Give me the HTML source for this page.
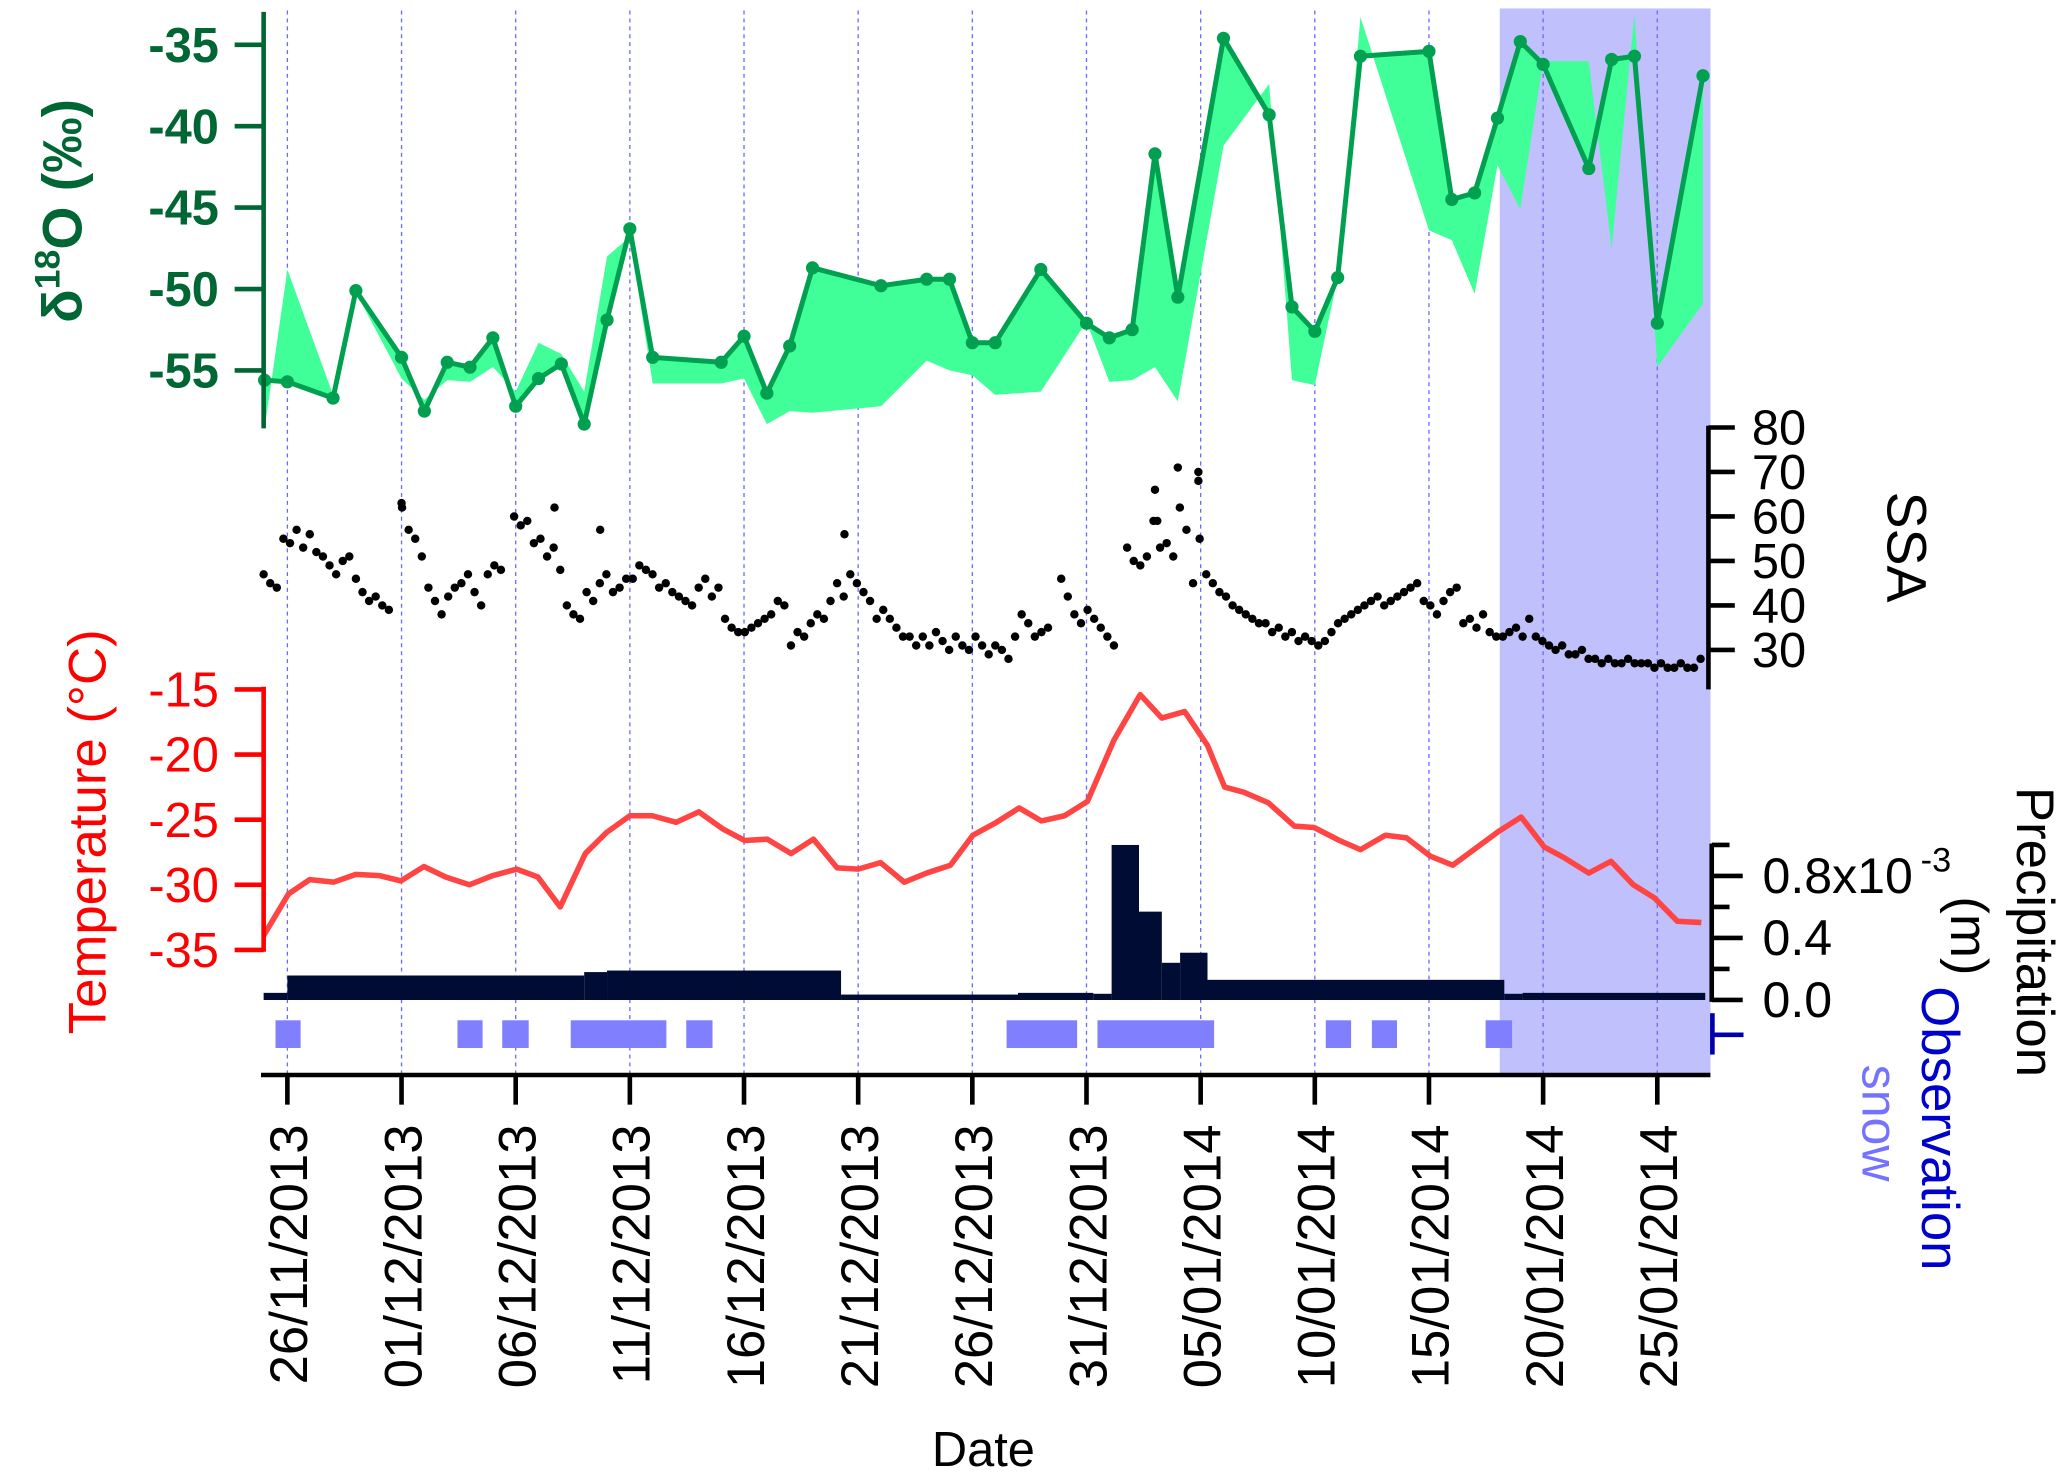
<!DOCTYPE html>
<html><head><meta charset="utf-8"><title>d18O SSA Temperature Precipitation</title>
<style>
html,body{margin:0;padding:0;background:#fff;}
svg{display:block;}
text{font-family:"Liberation Sans",Arial,sans-serif;}
</style></head>
<body>
<svg id="chart" width="2067" height="1476" viewBox="0 0 1568 1119.7" preserveAspectRatio="none" xmlns="http://www.w3.org/2000/svg">
  <rect x="0" y="0" width="1568" height="1120" fill="#fff"/>
  <g id="shade"></g>
  <g id="grid"></g>
  <g id="d18o"></g>
  <g id="ssa"></g>
  <g id="temp"></g>
  <g id="precip"></g>
  <g id="snow"></g>
  <g id="xaxis"></g>

  <text transform="translate(62,160) rotate(-90)" text-anchor="middle" font-size="42" font-weight="bold" fill="#006633">δ<tspan font-size="27" dy="-17">18</tspan><tspan dy="17">O (‰)</tspan></text>
  <text transform="translate(80,631) rotate(-90)" text-anchor="middle" font-size="40" fill="#ff0000">Temperature (°C)</text>
  <text transform="translate(1432,415) rotate(90)" text-anchor="middle" font-size="42" fill="#000">SSA</text>
  <text transform="translate(1530,707) rotate(90)" text-anchor="middle" font-size="40" fill="#000">Precipitation</text>
  <text transform="translate(1480,710) rotate(90)" text-anchor="middle" font-size="40" fill="#000">(m)</text>
  <text transform="translate(1458,856) rotate(90)" text-anchor="middle" font-size="40" fill="#0000cc">Observation</text>
  <text transform="translate(1413,852) rotate(90)" text-anchor="middle" font-size="38" fill="#7373ff">snow</text>
  <text x="746" y="1112" text-anchor="middle" font-size="37" fill="#000">Date</text>
</svg>
<script>
// ---------- data ----------
const tickDays = [0,5,10,15,20,25,30,35,40,45,50,55,60];
const tickLabels = ["26/11/2013","01/12/2013","06/12/2013","11/12/2013","16/12/2013","21/12/2013","26/12/2013","31/12/2013","05/01/2014","10/01/2014","15/01/2014","20/01/2014","25/01/2014"];

const d18oDays = [-1,0,2,3,5,6,7,8,9,10,11,12,13,14,15,16,19,20,21,22,23,26,28,29,30,31,33,35,36,37,38,39,41,43,44,45,46,47,50,51,52,53,54,55,57,58,59,60,62];
const d18oValues = [-55.6,-55.7,-56.7,-50.1,-54.2,-57.5,-54.5,-54.8,-53.0,-57.2,-55.5,-54.6,-58.3,-51.9,-46.3,-54.2,-54.5,-52.9,-56.4,-53.5,-48.7,-49.8,-49.4,-49.4,-53.3,-53.3,-48.8,-52.1,-53.0,-52.5,-41.7,-50.5,-34.6,-39.3,-51.1,-52.6,-49.3,-35.7,-35.4,-44.5,-44.1,-39.5,-34.8,-36.2,-42.6,-35.9,-35.7,-52.1,-36.9];
const d18oAltValues = [-58.6,-48.8,-56.5,-50.2,-55.5,-56.8,-55.6,-55.7,-54.8,-56.3,-53.3,-54.0,-56.3,-48.0,-46.8,-55.8,-55.8,-55.5,-58.3,-57.5,-57.6,-57.2,-54.4,-55.0,-55.3,-56.5,-56.3,-52.0,-55.7,-55.6,-54.8,-56.9,-41.2,-37.4,-55.6,-55.9,-49.3,-33.3,-46.4,-47.0,-50.3,-42.4,-45.1,-36.0,-36.0,-47.5,-33.1,-54.8,-50.9];
const d18oTicks = [-35,-40,-45,-50,-55];

const ssaStartDay = -1.04;
const ssaStepDays = 0.2887;
const ssaValues = [47,45,44,55,54,57,53,56,52,51,49,47,50,51,46,43,41,42,40,39,null,62,57,55,51,44,41,38,42,44,45,47,43,40,47,49,48,null,60,58,59,54,55,51,53,48,40,38,37,43,41,45,47,43,44,46,46,49,48,47,44,45,43,42,41,40,44,46,42,44,37,35,34,34,35,36,37,38,41,40,31,34,33,36,38,37,41,45,42,47,45,43,41,37,39,37,35,33,33,31,33,31,34,32,30,33,31,30,33,31,29,31,30,28,33,38,36,33,34,35,null,46,42,38,36,39,37,35,33,31,null,53,50,49,51,59,53,54,51,62,57,45,55,47,45,43,42,40,39,38,37,36,36,34,35,33,34,32,33,32,31,32,34,36,37,38,39,40,41,42,40,41,42,43,44,45,41,40,38,41,43,44,36,37,35,38,34,33,33,34,35,33,37,33,32,31,30,31,29,29,30,28,28,27,28,27,27,28,27,27,27,26,27,26,26,27,26,26,28];
const ssaExtraDays = [39.0,39.9,39.9,38.0,5.0,11.7,13.7,24.4,38.1];
const ssaExtraValues = [71,70,68,66,63,62,57,56,59];
const ssaTicks = [80,70,60,50,40,30];

const tempDays = [-1.04,0.05,0.98,2.02,3.0,4.04,4.97,5.98,6.93,7.97,8.98,10.04,10.97,11.95,13.05,13.97,15.0,15.98,17.03,18.02,19.06,20.03,21.02,22.06,23.04,24.08,25.0,25.98,27.02,28.0,29.04,30.02,31.06,32.05,33.03,34.04,35.04,36.2,37.35,38.3,39.3,40.3,41.05,41.9,42.96,44.11,44.97,46.08,47.0,48.09,49.02,50.06,51.04,53.05,54.04,55.05,55.9,57.0,57.97,58.95,59.87,60.88,61.93];
const tempValues = [-33.9,-30.7,-29.6,-29.8,-29.2,-29.3,-29.7,-28.6,-29.4,-30.0,-29.3,-28.8,-29.4,-31.7,-27.6,-26.0,-24.7,-24.7,-25.2,-24.4,-25.7,-26.6,-26.5,-27.6,-26.5,-28.7,-28.8,-28.3,-29.8,-29.1,-28.5,-26.2,-25.2,-24.1,-25.1,-24.7,-23.6,-18.9,-15.4,-17.2,-16.7,-19.3,-22.5,-22.9,-23.7,-25.5,-25.6,-26.6,-27.3,-26.2,-26.4,-27.8,-28.5,-25.9,-24.8,-27.1,-27.9,-29.1,-28.2,-30.0,-31.0,-32.8,-32.9];
const tempTicks = [-15,-20,-25,-30,-35];

const precipStartDays = [-1.04,0,13.0,14.0,24.25,32.0,35.3,36.1,37.3,38.3,39.1,40.3,53.3,54.1];
const precipEndDays   = [0,13.0,14.0,24.25,32.0,35.3,36.1,37.3,38.3,39.1,40.3,53.3,54.1,62.1];
const precipValues    = [0.046,0.158,0.18,0.19,0.035,0.046,0.04,1.0,0.57,0.24,0.305,0.13,0.04,0.046];
const precipTicks = [0,0.2,0.4,0.6,0.8,1.0];
const precipTickLabels = ["0.0","","0.4","","0.8x10",""];

const snowStartDays = [-0.52,7.45,9.41,12.41,17.47,31.5,35.48,45.48,47.5,52.48];
const snowEndDays   = [0.58,8.55,10.57,16.6,18.62,34.59,40.59,46.59,48.6,53.64];

const shadeStartDay = 53.1;
const shadeEndDay = 62.33;

// ---------- scales ----------
const X0 = 218, PX_PER_DAY = 17.32;
function xs(d){ return X0 + d*PX_PER_DAY; }
function yD18O(v){ return 34 + (-35 - v)*12.35; }
function ySSA(v){ return 324.3 + (80 - v)*3.375; }
function yTemp(v){ return 523 + (-15 - v)*9.88; }
function yPrecip(v){ return 758.6 - v*117.6; }
const NS = "http://www.w3.org/2000/svg";
function mk(parent, tag, attrs){
  const e = document.createElementNS(NS, tag);
  for (const k in attrs) e.setAttribute(k, attrs[k]);
  parent.appendChild(e);
  return e;
}
const G = id => document.getElementById(id);

// ---------- shade ----------
{
  const r = mk(G('shade'), 'rect', {x: xs(shadeStartDay), y: 6.4, width: xs(shadeEndDay)-xs(shadeStartDay), height: 809, fill: '#c0c0fc'});
  
  
}
// ---------- grid ----------
tickDays.forEach(d => {
  const l = mk(G('grid'), 'line', {x1: xs(d), x2: xs(d), y1: 8, y2: 815, stroke: '#6a6aff', 'stroke-width': 1, 'stroke-dasharray': '3,3'});
  
  
});

// ---------- d18O ----------
{
  const g = G('d18o');
  let pts = d18oDays.map((d,i) => xs(d)+','+yD18O(d18oValues[i]));
  for (let i = d18oDays.length-1; i >= 0; i--) pts.push(xs(d18oDays[i])+','+yD18O(d18oAltValues[i]));
  const poly = mk(g, 'polygon', {points: pts.join(' '), fill: '#40ff99', stroke: 'none'});
  
  
  const line = mk(g, 'polyline', {points: d18oDays.map((d,i) => xs(d)+','+yD18O(d18oValues[i])).join(' '), fill: 'none', stroke: '#00a050', 'stroke-width': 3.8, 'stroke-linejoin': 'round'});
  
  
  d18oDays.forEach((d,i) => {
    const c = mk(g, 'circle', {cx: xs(d), cy: yD18O(d18oValues[i]), r: 5, fill: '#00a050'});
    
    
  });
  const ax = mk(g, 'line', {x1: 200, x2: 200, y1: 9, y2: 325, stroke: '#006633', 'stroke-width': 3.5});
  
  
  d18oTicks.forEach(v => {
    const t = mk(g, 'line', {x1: 178, x2: 200, y1: yD18O(v), y2: yD18O(v), stroke: '#006633', 'stroke-width': 3.5});
    
    
    const tx = mk(g, 'text', {x: 166, y: yD18O(v)+13, 'text-anchor': 'end', 'font-size': 37, 'font-weight': 'bold', fill: '#006633'});
    tx.textContent = String(v);
    
    
  });
}

// ---------- SSA ----------
{
  const g = G('ssa');
  ssaValues.forEach((v,i) => {
    if (v === null) return;
    const c = mk(g, 'circle', {cx: xs(ssaStartDay + i*ssaStepDays), cy: ySSA(v), r: 3.2, fill: '#000'});
    
    
  });
  ssaExtraDays.forEach((d,i) => {
    const c = mk(g, 'circle', {cx: xs(d), cy: ySSA(ssaExtraValues[i]), r: 3.2, fill: '#000'});
    
    
  });
  const ax = mk(g, 'line', {x1: 1296, x2: 1296, y1: 323, y2: 523, stroke: '#000', 'stroke-width': 3.5});
  
  
  ssaTicks.forEach(v => {
    const t = mk(g, 'line', {x1: 1296, x2: 1316, y1: ySSA(v), y2: ySSA(v), stroke: '#000', 'stroke-width': 3.5});
    
    
    const tx = mk(g, 'text', {x: 1329, y: ySSA(v)+13, 'font-size': 37, fill: '#000'});
    tx.textContent = String(v);
    
    
  });
}

// ---------- Temperature ----------
{
  const g = G('temp');
  const line = mk(g, 'polyline', {points: tempDays.map((d,i) => xs(d)+','+yTemp(tempValues[i])).join(' '), fill: 'none', stroke: '#ff4444', 'stroke-width': 4.2, 'stroke-linejoin': 'round'});
  
  
  const ax = mk(g, 'line', {x1: 200, x2: 200, y1: 521, y2: 722, stroke: '#ff0000', 'stroke-width': 3.5});
  
  
  tempTicks.forEach(v => {
    const t = mk(g, 'line', {x1: 178, x2: 200, y1: yTemp(v), y2: yTemp(v), stroke: '#ff0000', 'stroke-width': 3.5});
    
    
    const tx = mk(g, 'text', {x: 166, y: yTemp(v)+13, 'text-anchor': 'end', 'font-size': 37, fill: '#ff0000'});
    tx.textContent = String(v);
    
    
  });
}

// ---------- Precipitation ----------
{
  const g = G('precip');
  precipValues.forEach((v,i) => {
    const x1 = xs(precipStartDays[i]), x2 = xs(precipEndDays[i]);
    const r = mk(g, 'rect', {x: x1, y: yPrecip(v), width: x2-x1, height: yPrecip(0)-yPrecip(v), fill: '#000c33'});
    
    
  });
  const ax = mk(g, 'line', {x1: 1298.5, x2: 1298.5, y1: 640, y2: 760, stroke: '#000', 'stroke-width': 3.5});
  
  
  precipTicks.forEach((v,i) => {
    const t = mk(g, 'line', {x1: 1298.5, x2: (i%2===0)?1322:1312, y1: yPrecip(v), y2: yPrecip(v), stroke: '#000', 'stroke-width': 3.5});
    
    
    if (precipTickLabels[i]) {
      const tx = mk(g, 'text', {x: 1337, y: yPrecip(v)+13, 'font-size': 38, fill: '#000'});
      tx.textContent = precipTickLabels[i];
      
      
    }
  });
  const ex = mk(g, 'text', {x: 1457, y: 661, 'font-size': 26, fill: '#000'});
  ex.textContent = '-3';
  
  
}

// ---------- Snow observation ----------
{
  const g = G('snow');
  snowStartDays.forEach((d,i) => {
    const r = mk(g, 'rect', {x: xs(d), y: 774, width: xs(snowEndDays[i])-xs(d), height: 21, fill: '#8080ff'});
    
    
  });
  const ax = mk(g, 'line', {x1: 1299, x2: 1299, y1: 768.6, y2: 800, stroke: '#0000aa', 'stroke-width': 3.5});
  
  
  const tk = mk(g, 'line', {x1: 1299, x2: 1322.6, y1: 785, y2: 785, stroke: '#0000aa', 'stroke-width': 3.5});
  
  
}

// ---------- X axis ----------
{
  const g = G('xaxis');
  const ax = mk(g, 'line', {x1: 198, x2: 1297.5, y1: 815.5, y2: 815.5, stroke: '#000', 'stroke-width': 3.5});
  
  
  tickDays.forEach((d,i) => {
    const t = mk(g, 'line', {x1: xs(d), x2: xs(d), y1: 815, y2: 838, stroke: '#000', 'stroke-width': 3.5});
    
    
    const tx = mk(g, 'text', {transform: 'translate(' + (xs(d)+15) + ',853) rotate(-90)', 'text-anchor': 'end', 'font-size': 40, fill: '#000'});
    tx.textContent = tickLabels[i];
    
    
  });
}
</script>
</body></html>
